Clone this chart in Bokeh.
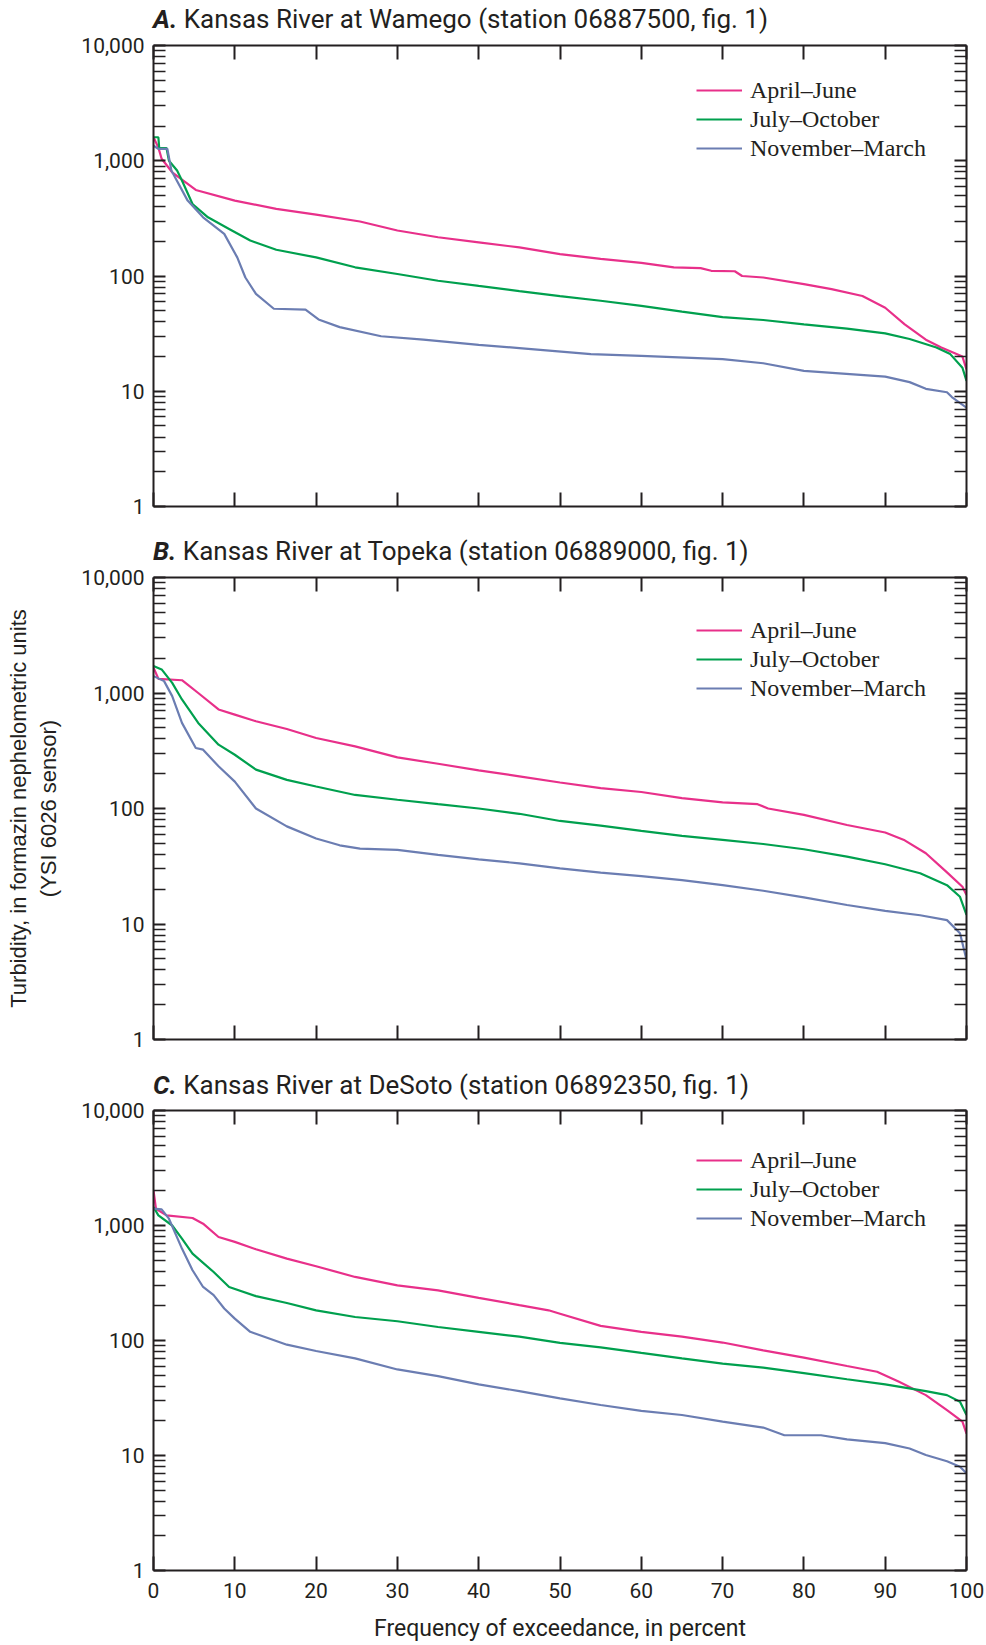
from bokeh.plotting import figure
from bokeh.models import (LogAxis, LinearAxis, FixedTicker, NumeralTickFormatter,
                          Legend, LegendItem, Range1d, Div)
from bokeh.layouts import column
from bokeh.embed import file_html
from bokeh.resources import INLINE

# ---------------- data (percent exceedance, turbidity FNU) ----------------
series_names = ["April\u2013June", "July\u2013October", "November\u2013March"]

a_apr_x = [0, 0.6, 1.0, 2.3, 5.2, 10, 15.1, 20, 25.4, 30, 35, 40, 45, 50, 55, 60, 64, 67.3, 68.6, 71.5, 72.4, 75, 80, 83.4, 87.2, 90, 92.4, 95, 96.9, 99.5, 100]
a_apr_y = [1600, 1300, 1040, 794, 558, 451, 382, 341, 297, 248, 217, 196, 177, 155, 141, 130, 119, 117, 111, 110, 100, 97, 85, 77, 67, 53, 38, 28, 24, 20, 15.5]
a_jul_x = [0, 0.6, 0.7, 1.6, 1.9, 2.9, 3.5, 4.8, 6.7, 9.3, 11.9, 15.1, 20, 24.8, 30, 35, 40, 45, 50, 55, 60, 65, 70, 75, 80, 85.3, 90, 93, 96.3, 98, 99.5, 100]
a_jul_y = [1600, 1600, 1290, 1290, 1000, 822, 673, 421, 323, 256, 203, 169, 145, 119, 104, 91, 82, 74, 67, 61, 55, 49, 44, 41.5, 38, 35, 31.8, 28.4, 24, 21, 16, 12.3]
a_nov_x = [0, 0.6, 1.7, 2.2, 4.2, 6.1, 8.7, 10.3, 11.3, 12.6, 14.8, 18.7, 20.3, 22.9, 28, 33.2, 40, 45, 53.8, 60, 70, 75, 80, 90, 93, 95, 97.6, 98.2, 100]
a_nov_y = [1350, 1270, 1270, 822, 451, 323, 232, 145, 97, 70, 52, 51, 42, 36, 30, 28, 25.3, 23.7, 21, 20.3, 19, 17.5, 15, 13.4, 12, 10.5, 9.8, 8.9, 7.2]

b_apr_x = [0, 0.6, 3.5, 4.2, 5.5, 8, 10, 12.6, 16.4, 20, 24.8, 30, 35, 40, 45, 50, 55, 60, 65, 70, 74.3, 75.6, 80, 85.3, 90, 92.4, 95, 97.6, 99.5, 100]
b_apr_y = [1655, 1327, 1290, 1180, 1000, 720, 650, 569, 488, 408, 345, 277, 244, 214, 190, 168, 150, 139, 123, 113, 109, 100, 88, 72, 62, 53, 41, 28, 21, 17.8]
b_jul_x = [0, 1.0, 2.3, 3.5, 5.5, 8, 10, 12.6, 16.4, 20, 24.8, 30, 35, 40, 45, 50, 55, 60, 65, 70, 75, 80, 85.3, 90, 94.3, 97.6, 99.2, 100]
b_jul_y = [1711, 1600, 1225, 879, 551, 357, 292, 217, 177, 155, 131, 119, 109, 100, 90, 78, 71, 64, 58, 53.5, 49.3, 44.4, 38.3, 32.9, 27.5, 21.7, 17.2, 12]
b_nov_x = [0, 1.3, 2.3, 3.5, 5.2, 6.1, 8, 10, 12.6, 16.4, 20, 22.9, 25.4, 30, 35, 40, 45, 50, 55, 60, 65, 70, 75, 80, 85.3, 90, 94.3, 97.6, 99.2, 100]
b_nov_y = [1400, 1267, 940, 551, 334, 323, 232, 171, 100, 70, 55, 48, 45, 43.8, 39.6, 36.3, 33.5, 30.3, 27.8, 26, 24, 21.7, 19.4, 17, 14.6, 13, 11.9, 10.8, 8.3, 4.9]

c_apr_x = [0, 0.3, 1.6, 4.8, 6.1, 8, 10, 12.6, 16.4, 20, 24.8, 30, 35, 40, 45, 48.6, 50, 55, 60, 65, 70, 75, 80, 85.3, 89, 91.7, 95, 97.6, 99.5, 100]
c_apr_y = [2018, 1400, 1225, 1162, 1037, 794, 720, 621, 515, 442, 357, 302, 273, 235, 203, 183, 171, 134, 119, 108, 96, 82, 71, 60, 53.5, 43.8, 33.5, 24.8, 19.7, 15.5]
c_jul_x = [0, 0.6, 2.3, 3.5, 4.8, 7.4, 9.3, 12.6, 16.4, 20, 24.8, 30, 35, 40, 45, 50, 55, 60, 65, 70, 75, 80, 85.3, 90, 95, 97.6, 99.2, 100]
c_jul_y = [1449, 1225, 1000, 769, 569, 394, 292, 243, 212, 183, 160, 147, 131, 119, 108, 95.5, 87, 78, 70, 63, 58, 52, 46, 41.5, 36.3, 33.5, 29.3, 22.5]
c_nov_x = [0, 1.0, 1.9, 3.5, 4.8, 6.1, 7.4, 8.7, 10, 11.9, 16.4, 20, 24.8, 30, 35, 40, 45, 50, 55, 60, 65, 70, 75, 77.6, 82.1, 85.3, 90, 93, 95, 97.6, 99.2, 100]
c_nov_y = [1400, 1380, 1146, 630, 408, 292, 248, 190, 155, 119, 92, 81, 70, 56, 49, 41.5, 36.3, 31.4, 27.5, 24.4, 22.5, 19.7, 17.5, 15, 15, 13.8, 12.8, 11.5, 10.1, 8.9, 8, 7]

panel_letters = ["A.", "B.", "C."]
panel_titles = ["Kansas River at Wamego (station 06887500, fig. 1)",
                "Kansas River at Topeka (station 06889000, fig. 1)",
                "Kansas River at DeSoto (station 06892350, fig. 1)"]
x_ticks = [0, 10, 20, 30, 40, 50, 60, 70, 80, 90, 100]
y_ticks = [1, 10, 100, 1000, 10000]
y_label = "Turbidity, in formazin nephelometric units\n(YSI 6026 sensor)"
x_label = "Frequency of exceedance, in percent"

# ---------------- style ----------------
COLORS = ["#E8308A", "#00A04E", "#6B7DB2"]
INK = "#231F20"
COND = "Roboto"
SERIF = "Liberation Serif"
SANS = "Liberation Sans"
minor = [m * 10 ** d for d in range(0, 4) for m in range(2, 10)]


def style_axis(ax, tick_len, show_labels=False, label_size="21px"):
    ax.axis_line_width = 2
    ax.axis_line_color = INK
    ax.major_tick_in = tick_len
    ax.major_tick_out = 0
    ax.minor_tick_in = tick_len
    ax.minor_tick_out = 0
    ax.major_tick_line_color = INK
    ax.minor_tick_line_color = INK
    ax.major_tick_line_width = 2
    ax.minor_tick_line_width = 1.6
    ax.major_label_text_font = COND
    if show_labels:
        ax.major_label_text_font_size = label_size
        ax.major_label_text_color = INK
    else:
        ax.major_label_text_font_size = "1px"
        ax.major_label_text_color = None
        ax.major_label_standoff = 0


def make_title(idx, height, shift):
    html = ('<div style="position:relative; top:%dpx; padding-left:153px; white-space:nowrap; '
            'font-family:Roboto; font-size:26px; line-height:20px; color:%s;">'
            '<b><i>%s</i></b> %s</div>') % (shift, INK, panel_letters[idx], panel_titles[idx])
    return Div(text=html, width=986, height=height, margin=0,
               styles={"overflow": "visible"})


def make_panel(data, height, bottom, legend_y, show_x, ylab=None):
    p = figure(width=986, height=height, x_range=Range1d(0, 100), y_range=Range1d(1, 10000),
               y_axis_type="log", output_backend="svg", toolbar_location=None,
               min_border_left=153, min_border_right=20, min_border_top=14,
               min_border_bottom=bottom)
    p.outline_line_color = None
    p.grid.visible = False
    p.border_fill_color = None

    ya = p.yaxis[0]
    ya.ticker = FixedTicker(ticks=y_ticks, minor_ticks=minor)
    ya.formatter = NumeralTickFormatter(format="0,0")
    style_axis(ya, 12, True, "21px")
    ya.major_label_standoff = 9
    if ylab:
        ya.axis_label = ylab
        ya.axis_label_text_font = SANS
        ya.axis_label_text_font_size = "22px"
        ya.axis_label_text_font_style = "normal"
        ya.axis_label_text_color = INK
        ya.axis_label_standoff = 17

    yr = LogAxis(ticker=FixedTicker(ticks=y_ticks, minor_ticks=minor))
    style_axis(yr, 12)
    p.add_layout(yr, "right")

    xa = p.xaxis[0]
    xa.ticker = FixedTicker(ticks=x_ticks)
    if show_x:
        style_axis(xa, 14, True, "21px")
        xa.major_label_standoff = 12
        xa.axis_label = x_label
        xa.axis_label_text_font = COND
        xa.axis_label_text_font_size = "23px"
        xa.axis_label_text_font_style = "normal"
        xa.axis_label_text_color = INK
        xa.axis_label_standoff = 14
    else:
        style_axis(xa, 14)

    xt = LinearAxis(ticker=FixedTicker(ticks=x_ticks))
    style_axis(xt, 14)
    p.add_layout(xt, "above")

    items = []
    for k, (xs, ys) in enumerate(data):
        r = p.line(xs, ys, line_color=COLORS[k], line_width=2.2)
        items.append(LegendItem(label=series_names[k], renderers=[r]))

    leg = Legend(items=items, location=(543, legend_y), orientation="vertical",
                 label_text_font=SERIF, label_text_font_size="24px", label_text_color=INK,
                 glyph_width=46, glyph_height=28, label_height=28, spacing=1,
                 padding=0, margin=0, label_standoff=8,
                 border_line_color=None, background_fill_alpha=0)
    p.add_layout(leg)
    return p


tA = make_title(0, 31, 9)
pA = make_panel([(a_apr_x, a_apr_y), (a_jul_x, a_jul_y), (a_nov_x, a_nov_y)],
                509, 34, 344, False)
tB = make_title(1, 23, 1)
pB = make_panel([(b_apr_x, b_apr_y), (b_jul_x, b_jul_y), (b_nov_x, b_nov_y)],
                512, 36, 337, False, y_label)
tC = make_title(2, 21, 0)
pC = make_panel([(c_apr_x, c_apr_y), (c_jul_x, c_jul_y), (c_nov_x, c_nov_y)],
                549, 75, 338, True)

layout = column(tA, pA, tB, pB, tC, pC, spacing=0)
open("out.html", "w").write(file_html(layout, INLINE))
